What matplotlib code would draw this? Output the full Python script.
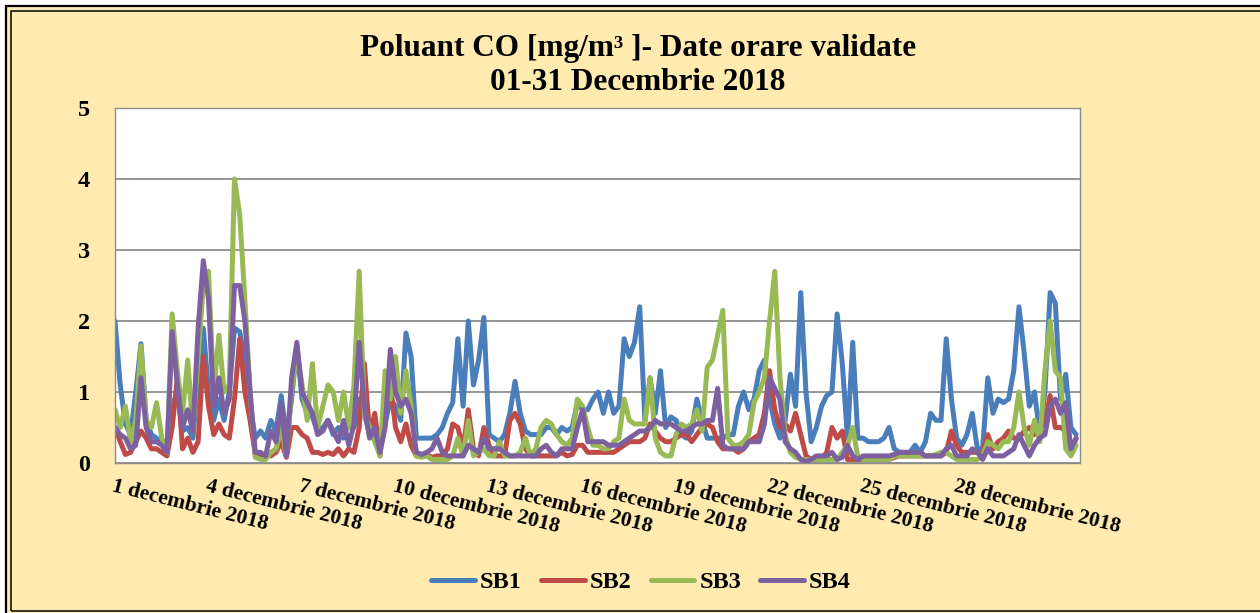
import numpy as np
import matplotlib
matplotlib.use("Agg")
import matplotlib.pyplot as plt
from matplotlib.patches import Rectangle

plt.rcParams['font.family'] = 'Liberation Serif'
plt.rcParams['font.weight'] = 'bold'

# CO values, every 4 hours (6 values per day, 1-31 Dec 2018)
sb1 = [
    2.0, 1.1, 0.55, 0.4, 1.0, 1.68,
    0.6, 0.4, 0.35, 0.3, 0.3, 0.8,
    1.0, 0.45, 0.5, 0.35, 1.2, 1.9,
    1.0, 0.6, 0.9, 0.6, 1.0, 1.9,
    1.85, 1.45, 0.8, 0.35, 0.45, 0.35,
    0.6, 0.45, 0.95, 0.35, 0.9, 1.65,
    0.9, 0.7, 0.65, 0.45, 0.5, 0.6,
    0.4, 0.5, 0.35, 0.6, 0.5, 0.9,
    0.7, 0.4, 0.5, 0.25, 0.55, 0.9,
    0.8, 0.6, 1.83, 1.5, 0.35, 0.35,
    0.35, 0.35, 0.4, 0.5, 0.7, 0.85,
    1.75, 0.8, 2.0, 1.1, 1.45, 2.05,
    0.4, 0.35, 0.3, 0.4, 0.7, 1.15,
    0.7, 0.45, 0.4, 0.4, 0.4, 0.5,
    0.5, 0.4, 0.5, 0.45, 0.5, 0.85,
    0.75, 0.75, 0.9, 1.0, 0.7, 1.0,
    0.7, 0.8, 1.75, 1.5, 1.7, 2.2,
    0.6, 1.2, 0.7, 1.3, 0.5, 0.65,
    0.6, 0.4, 0.35, 0.45, 0.9, 0.6,
    0.35, 0.35, 0.35, 0.35, 0.4, 0.4,
    0.8, 1.0, 0.75, 0.9, 1.3, 1.45,
    0.9, 0.55, 0.35, 0.6, 1.25, 0.8,
    2.4, 1.0, 0.3, 0.5, 0.8, 0.95,
    1.0, 2.1, 1.4, 0.35, 1.7, 0.35,
    0.35, 0.3, 0.3, 0.3, 0.35, 0.5,
    0.2, 0.15, 0.15, 0.15, 0.25, 0.15,
    0.3, 0.7, 0.6, 0.6, 1.75, 0.9,
    0.35, 0.25, 0.4, 0.7, 0.2, 0.2,
    1.2, 0.7, 0.9, 0.85, 0.9, 1.3,
    2.2, 1.55, 0.8, 1.0, 0.4, 1.0,
    2.4, 2.25, 0.9, 1.25, 0.5, 0.4,
]
sb2 = [
    0.5, 0.3, 0.12, 0.15, 0.3, 0.45,
    0.35, 0.2, 0.2, 0.15, 0.1, 0.5,
    1.2, 0.2, 0.35, 0.15, 0.3, 1.5,
    0.8, 0.4, 0.55, 0.4, 0.35, 0.9,
    1.75, 1.0, 0.6, 0.12, 0.1, 0.12,
    0.1, 0.15, 0.3, 0.08, 0.5, 0.5,
    0.4, 0.35, 0.15, 0.15, 0.12, 0.15,
    0.12, 0.2, 0.1, 0.2, 0.15, 0.5,
    1.4, 0.4, 0.7, 0.1, 0.8, 1.1,
    0.5, 0.3, 0.55, 0.25, 0.1, 0.12,
    0.12, 0.08, 0.1, 0.1, 0.2, 0.55,
    0.5, 0.2, 0.75, 0.2, 0.1, 0.5,
    0.25, 0.1, 0.1, 0.1, 0.6, 0.7,
    0.55, 0.2, 0.1, 0.1, 0.1, 0.1,
    0.1, 0.1, 0.15, 0.1, 0.12, 0.25,
    0.25, 0.15, 0.15, 0.15, 0.15, 0.15,
    0.15, 0.2, 0.25, 0.3, 0.3, 0.3,
    0.35, 0.55, 0.45, 0.35, 0.3, 0.3,
    0.35, 0.4, 0.4, 0.3, 0.4, 0.5,
    0.55, 0.5, 0.3, 0.2, 0.2, 0.2,
    0.15, 0.2, 0.3, 0.35, 0.4, 0.7,
    1.3, 0.75, 0.5, 0.55, 0.45, 0.7,
    0.4, 0.1, 0.05, 0.05, 0.05, 0.15,
    0.5, 0.35, 0.45, 0.05, 0.05, 0.05,
    0.05, 0.05, 0.05, 0.05, 0.05, 0.05,
    0.08, 0.1, 0.1, 0.1, 0.1, 0.1,
    0.1, 0.1, 0.1, 0.1, 0.15, 0.45,
    0.25, 0.15, 0.15, 0.15, 0.15, 0.15,
    0.4, 0.2, 0.3, 0.35, 0.45, 0.35,
    0.35, 0.45, 0.5, 0.4, 0.5, 0.55,
    0.95, 0.5, 0.5, 0.45, 0.15, 0.35,
]
sb3 = [
    0.75, 0.5, 0.8, 0.3, 0.6, 1.65,
    0.6, 0.5, 0.85, 0.35, 0.15, 2.1,
    1.3, 0.7, 1.45, 0.45, 1.5, 2.5,
    2.7, 1.0, 1.8, 1.0, 1.1, 4.0,
    3.5, 2.3, 1.0, 0.08, 0.05, 0.05,
    0.15, 0.2, 0.5, 0.1, 1.0, 1.6,
    1.1, 0.6, 1.4, 0.5, 0.8, 1.1,
    1.0, 0.6, 1.0, 0.5, 1.1, 2.7,
    0.7, 0.5, 0.3, 0.1, 1.3, 0.9,
    1.5, 0.7, 1.3, 0.8, 0.1, 0.08,
    0.1, 0.05, 0.05, 0.05, 0.05, 0.1,
    0.35, 0.1, 0.6, 0.1, 0.15, 0.2,
    0.1, 0.1, 0.3, 0.1, 0.1, 0.1,
    0.15, 0.35, 0.1, 0.2, 0.5, 0.6,
    0.55, 0.4, 0.3, 0.25, 0.35, 0.9,
    0.8, 0.5, 0.25, 0.25, 0.2, 0.2,
    0.3, 0.35, 0.9, 0.6, 0.55, 0.55,
    0.55, 1.2, 0.35, 0.15, 0.1, 0.1,
    0.4, 0.55, 0.5, 0.55, 0.75, 0.45,
    1.35, 1.45, 1.8, 2.15, 0.35, 0.25,
    0.25, 0.3, 0.4, 0.85, 1.0, 1.2,
    2.0, 2.7, 1.2, 0.4, 0.15, 0.08,
    0.05, 0.05, 0.05, 0.05, 0.05, 0.05,
    0.05, 0.05, 0.15, 0.25, 0.5, 0.08,
    0.05, 0.05, 0.05, 0.05, 0.05, 0.05,
    0.1, 0.1, 0.1, 0.1, 0.1, 0.1,
    0.1, 0.1, 0.12, 0.15, 0.15, 0.1,
    0.05, 0.05, 0.05, 0.05, 0.05, 0.1,
    0.3, 0.25, 0.2, 0.3, 0.3, 0.5,
    1.0, 0.5, 0.25, 0.6, 0.3, 1.3,
    2.0, 1.3, 1.2, 0.2, 0.1, 0.25,
]
sb4 = [
    0.5, 0.4, 0.35, 0.2, 0.25, 1.2,
    0.5, 0.3, 0.3, 0.25, 0.15, 1.85,
    1.1, 0.5, 0.75, 0.45, 1.9, 2.85,
    2.3, 0.8, 1.2, 0.7, 0.9, 2.5,
    2.5, 2.0, 1.0, 0.15, 0.15, 0.1,
    0.45, 0.3, 0.85, 0.1, 1.2, 1.7,
    1.0, 0.85, 0.7, 0.4, 0.45, 0.6,
    0.45, 0.3, 0.6, 0.25, 0.55, 1.7,
    0.8, 0.35, 0.5, 0.15, 0.5, 1.6,
    1.0, 0.8, 0.9, 0.7, 0.15, 0.12,
    0.15, 0.2, 0.35, 0.15, 0.1, 0.1,
    0.1, 0.1, 0.25, 0.2, 0.15, 0.35,
    0.2, 0.2, 0.2, 0.15, 0.1, 0.1,
    0.1, 0.1, 0.1, 0.1, 0.2, 0.25,
    0.15, 0.1, 0.2, 0.2, 0.2, 0.5,
    0.75, 0.3, 0.3, 0.3, 0.3, 0.25,
    0.25, 0.25, 0.3, 0.35, 0.4, 0.45,
    0.45, 0.5, 0.6, 0.55, 0.55, 0.55,
    0.5, 0.45, 0.45, 0.5, 0.55, 0.55,
    0.6, 0.6, 1.05, 0.25, 0.2, 0.2,
    0.2, 0.2, 0.3, 0.3, 0.3, 0.55,
    1.2, 1.05, 0.9, 0.3, 0.2, 0.15,
    0.05, 0.02, 0.05, 0.1, 0.1, 0.1,
    0.15, 0.05, 0.08, 0.25, 0.1, 0.05,
    0.1, 0.1, 0.1, 0.1, 0.1, 0.1,
    0.12, 0.15, 0.15, 0.15, 0.15, 0.15,
    0.1, 0.1, 0.1, 0.1, 0.2, 0.25,
    0.1, 0.1, 0.1, 0.2, 0.15, 0.05,
    0.2, 0.1, 0.1, 0.1, 0.15, 0.2,
    0.4, 0.25, 0.1, 0.25, 0.35, 0.4,
    0.8, 0.9, 0.7, 0.85, 0.2, 0.35,
]
series_names = ['SB1', 'SB2', 'SB3', 'SB4']
colors = ['#4A7EBB', '#BE4B48', '#98B954', '#7D60A0']
tick_days = [1, 4, 7, 10, 13, 16, 19, 22, 25, 28]
tick_labels = [f"{d} decembrie 2018" for d in tick_days]

hours = np.arange(len(sb1)) * 4
W, H = 1260, 613


def fx(px):
    return px / W


def fy(py):
    return 1 - py / H


fig = plt.figure(figsize=(12.6, 6.13), dpi=100)
fig.patch.set_facecolor('white')

# cream panel with double black border
fig.patches.append(Rectangle((fx(5.5), fy(640)), fx(1300) - fx(5.5), fy(5.5) - fy(640),
                             transform=fig.transFigure, facecolor='#FFEAB0',
                             edgecolor='black', lw=1.6, zorder=-2))
fig.patches.append(Rectangle((fx(11), fy(611)), fx(1300) - fx(11), fy(11) - fy(611),
                             transform=fig.transFigure, facecolor='none',
                             edgecolor='black', lw=1.1, zorder=-1))

ax = fig.add_axes([fx(115), fy(463), fx(1080) - fx(115), fy(108) - fy(463)])
ax.set_zorder(2)
ax.set_facecolor('white')

for vals, name, c in zip([sb1, sb2, sb3, sb4], series_names, colors):
    ax.plot(hours, vals, color=c, lw=3.6, label=name,
            solid_joinstyle='round', solid_capstyle='round')

ax.set_xlim(0, 743)
ax.set_ylim(0, 5)
ax.set_yticks([0, 1, 2, 3, 4, 5])
ax.yaxis.grid(True, color='#8c8c8c', lw=1.3)
ax.set_axisbelow(True)
for s in ax.spines.values():
    s.set_color('#8c8c8c')
    s.set_linewidth(1.0)

ax.tick_params(axis='y', length=0, pad=18, labelsize=17.5)
ax.set_xticks([(d - 1) * 24 for d in tick_days])
ax.set_xticklabels(tick_labels, fontsize=15.5)
ax.tick_params(axis='x', length=0, pad=10)
for lab in ax.get_xticklabels():
    lab.set_rotation(-14)
    lab.set_ha('left')
    lab.set_va('top')
    lab.set_rotation_mode('anchor')

fig.text(fx(638), fy(56), 'Poluant CO [mg/m³ ]- Date orare validate',
         ha='center', va='baseline', fontsize=22.5, fontweight='bold')
fig.text(fx(638), fy(90), '01-31 Decembrie 2018',
         ha='center', va='baseline', fontsize=22.5, fontweight='bold')

leg = fig.legend(loc='center', bbox_to_anchor=(fx(641), fy(582)), ncol=4, frameon=False,
                 prop={'size': 17.5, 'weight': 'bold'}, handlelength=1.8,
                 handletextpad=0.2, columnspacing=0.8)
for h in leg.legend_handles:
    h.set_linewidth(3.6)

fig.savefig('out.png', dpi=100, facecolor=fig.get_facecolor())
